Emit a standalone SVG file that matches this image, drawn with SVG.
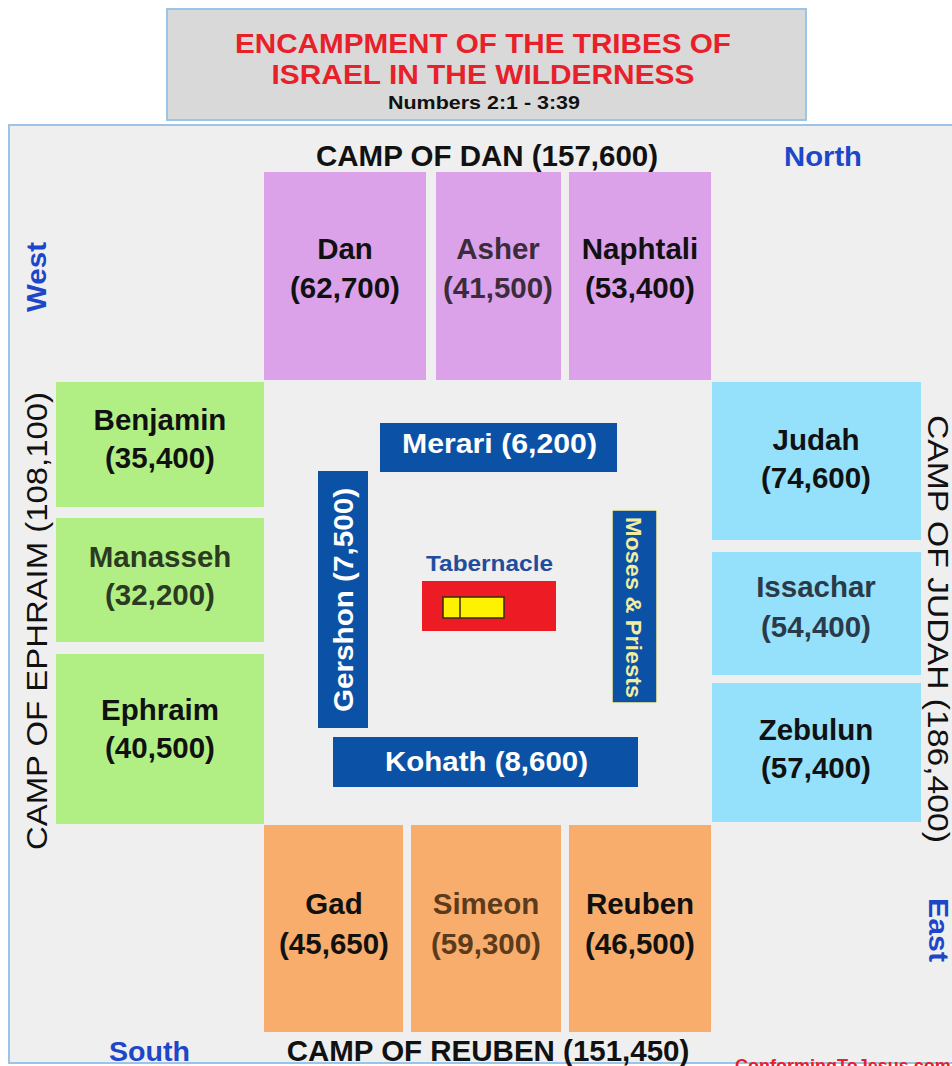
<svg xmlns="http://www.w3.org/2000/svg" width="952" height="1066" viewBox="0 0 952 1066">
<style>
text{font-family:"Liberation Sans",Arial,Helvetica,sans-serif}
.lbl{font-size:29.5px;font-weight:bold;text-anchor:middle;fill:#111}
.camp{font-size:29.5px;font-weight:bold;text-anchor:middle;fill:#111}
.campv{font-size:29px;text-anchor:middle;fill:#111}
.dir{font-size:28px;font-weight:bold;fill:#1d47c8}
.bar{fill:#0b52a6}
.bartxt{font-size:28px;font-weight:bold;fill:#fff;text-anchor:middle}
.pur{fill:#dba2ea}
.grn{fill:#b1ef85}
.cyn{fill:#95e0fa}
.org{fill:#f8ad6c}
</style>
<rect width="952" height="1066" fill="#ffffff"/>
<g id="title">
<rect x="167" y="9" width="639" height="111" fill="#d9d9d9" stroke="#9dc3e6" stroke-width="2"/>
<text x="483" y="53" font-size="28" font-weight="bold" fill="#e8202a" text-anchor="middle" textLength="496" lengthAdjust="spacingAndGlyphs">ENCAMPMENT OF THE TRIBES OF</text>
<text x="483" y="84" font-size="28" font-weight="bold" fill="#e8202a" text-anchor="middle" textLength="423" lengthAdjust="spacingAndGlyphs">ISRAEL IN THE WILDERNESS</text>
<text x="484" y="109" font-size="19" font-weight="bold" fill="#111" text-anchor="middle" textLength="192" lengthAdjust="spacingAndGlyphs">Numbers 2:1 - 3:39</text>
</g>
<g id="frame">
<rect x="9" y="125" width="960" height="938" fill="#efefef" stroke="#9dc3e6" stroke-width="2"/>
</g>
<g id="connectors"/>
<g id="camp-labels">
<text class="camp" x="487" y="166">CAMP OF DAN (157,600)</text>
<text class="camp" x="488" y="1061">CAMP OF REUBEN (151,450)</text>
<text class="campv" transform="translate(47,621) rotate(-90)" textLength="458" lengthAdjust="spacingAndGlyphs">CAMP OF EPHRAIM (108,100)</text>
<text class="campv" transform="translate(928,629) rotate(90)" textLength="428" lengthAdjust="spacingAndGlyphs">CAMP OF JUDAH (186,400)</text>
</g>
<g id="directions">
<text class="dir" x="784" y="166" textLength="78" lengthAdjust="spacingAndGlyphs">North</text>
<text class="dir" x="109" y="1061" textLength="81" lengthAdjust="spacingAndGlyphs">South</text>
<text class="dir" transform="translate(929,930) rotate(90)" text-anchor="middle" textLength="64" lengthAdjust="spacingAndGlyphs">East</text>
<text class="dir" transform="translate(46,277) rotate(-90)" text-anchor="middle" textLength="70" lengthAdjust="spacingAndGlyphs">West</text>
</g>
<g id="dan">
<rect class="pur" x="264" y="172" width="162" height="208"/>
<text class="lbl" x="345" y="259">Dan</text>
<text class="lbl" x="345" y="298">(62,700)</text>
</g>
<g id="asher">
<rect class="pur" x="436" y="172" width="125" height="208"/>
<text class="lbl" x="498" y="259" style="fill:#3b2b3b">Asher</text>
<text class="lbl" x="498" y="298" style="fill:#3b2b3b">(41,500)</text>
</g>
<g id="naphtali">
<rect class="pur" x="569" y="172" width="142" height="208"/>
<text class="lbl" x="640" y="259">Naphtali</text>
<text class="lbl" x="640" y="298">(53,400)</text>
</g>
<g id="benjamin">
<rect class="grn" x="56" y="382" width="208" height="125"/>
<text class="lbl" x="160" y="430">Benjamin</text>
<text class="lbl" x="160" y="468">(35,400)</text>
</g>
<g id="manasseh">
<rect class="grn" x="56" y="518" width="208" height="124"/>
<text class="lbl" x="160" y="567" style="fill:#2b3a20">Manasseh</text>
<text class="lbl" x="160" y="605" style="fill:#2b3a20">(32,200)</text>
</g>
<g id="ephraim">
<rect class="grn" x="56" y="654" width="208" height="170"/>
<text class="lbl" x="160" y="720">Ephraim</text>
<text class="lbl" x="160" y="758">(40,500)</text>
</g>
<g id="judah">
<rect class="cyn" x="712" y="382" width="209" height="158"/>
<text class="lbl" x="816" y="450">Judah</text>
<text class="lbl" x="816" y="488">(74,600)</text>
</g>
<g id="issachar">
<rect class="cyn" x="712" y="552" width="209" height="123"/>
<text class="lbl" x="816" y="597" style="fill:#2a3a48">Issachar</text>
<text class="lbl" x="816" y="637" style="fill:#2a3a48">(54,400)</text>
</g>
<g id="zebulun">
<rect class="cyn" x="712" y="683" width="209" height="139"/>
<text class="lbl" x="816" y="740">Zebulun</text>
<text class="lbl" x="816" y="778">(57,400)</text>
</g>
<g id="gad">
<rect class="org" x="264" y="825" width="139" height="207"/>
<text class="lbl" x="334" y="914">Gad</text>
<text class="lbl" x="334" y="954">(45,650)</text>
</g>
<g id="simeon">
<rect class="org" x="411" y="825" width="150" height="207"/>
<text class="lbl" x="486" y="914" style="fill:#5b3b1b">Simeon</text>
<text class="lbl" x="486" y="954" style="fill:#5b3b1b">(59,300)</text>
</g>
<g id="reuben">
<rect class="org" x="569" y="825" width="142" height="207"/>
<text class="lbl" x="640" y="914">Reuben</text>
<text class="lbl" x="640" y="954">(46,500)</text>
</g>
<g id="merari">
<rect class="bar" x="380" y="423" width="237" height="49"/>
<text class="bartxt" x="499.5" y="453" textLength="195" lengthAdjust="spacingAndGlyphs">Merari (6,200)</text>
</g>
<g id="gershon">
<rect class="bar" x="318" y="471" width="50" height="257"/>
<text class="bartxt" transform="translate(353,600) rotate(-90)" textLength="224" lengthAdjust="spacingAndGlyphs">Gershon (7,500)</text>
</g>
<g id="kohath">
<rect class="bar" x="333" y="737" width="305" height="50"/>
<text class="bartxt" x="486.5" y="771" textLength="203" lengthAdjust="spacingAndGlyphs">Kohath (8,600)</text>
</g>
<g id="moses-priests">
<rect class="bar" x="612" y="510" width="45" height="193" stroke="#fff59d" stroke-width="1.5"/>
<text transform="translate(626,607.5) rotate(90)" font-size="22" font-weight="bold" fill="#f3eda0" text-anchor="middle" textLength="181" lengthAdjust="spacingAndGlyphs">Moses &amp; Priests</text>
</g>
<g id="tabernacle">
<text x="489.5" y="571" font-size="22" font-weight="bold" fill="#1f4e9e" text-anchor="middle" textLength="127" lengthAdjust="spacingAndGlyphs">Tabernacle</text>
<rect x="422" y="581" width="134" height="50" fill="#ed1c24"/>
<rect x="443" y="597" width="61" height="21" fill="#fff200" stroke="#3a2a10" stroke-width="1.5"/>
<line x1="460" y1="597" x2="460" y2="618" stroke="#3a2a10" stroke-width="1.5"/>
</g>
<g id="credit">
<text x="735" y="1072" font-size="18" font-weight="bold" fill="#e8202a">ConformingToJesus.com</text>
</g>
</svg>
